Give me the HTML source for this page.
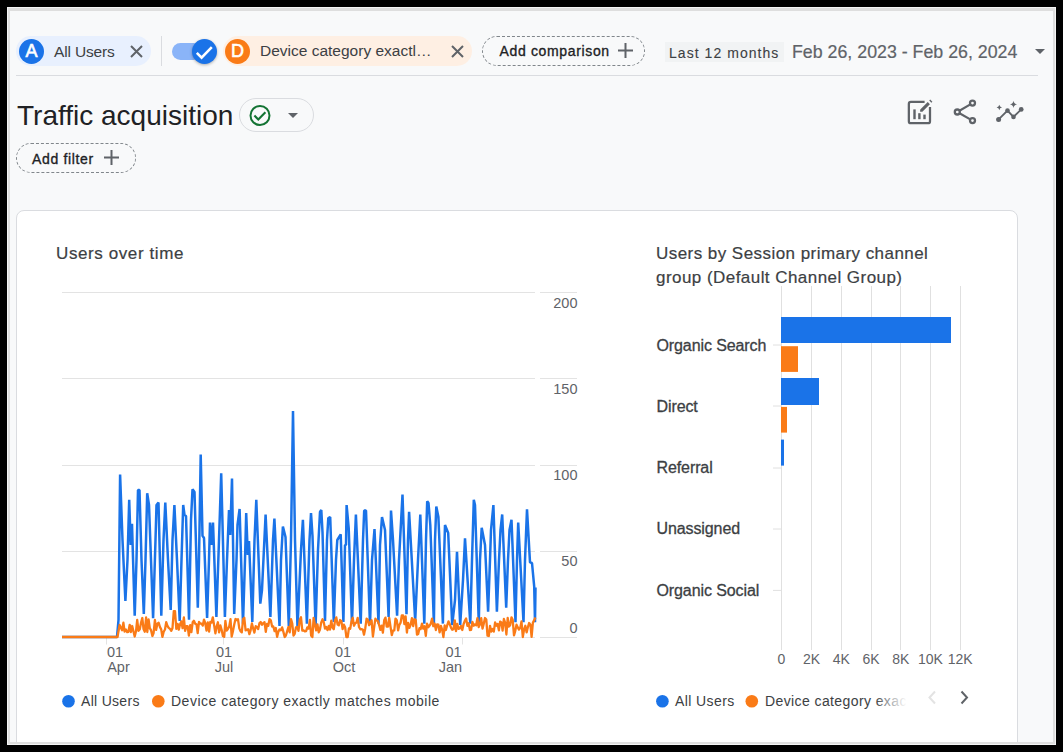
<!DOCTYPE html>
<html><head><meta charset="utf-8">
<style>
*{box-sizing:border-box;margin:0;padding:0}
html,body{width:1063px;height:752px;overflow:hidden;background:#000;font-family:"Liberation Sans",sans-serif}
.a{position:absolute}
#f1{left:7px;top:7px;width:1049px;height:738px;background:#f4f4f4}
#f2{left:8px;top:8px;width:1047px;height:736px;background:#dedede}
#pg{left:0;top:0;width:1063px;height:752px;clip-path:inset(11px 10px 10px 10px);background:#f8f9fa}
.t{white-space:nowrap;line-height:1}
.med{-webkit-text-stroke:0.33px currentColor}
.chip{border-radius:15px;height:30px;top:36px}
.av{width:25px;height:25px;border-radius:50%;top:38.8px;color:#fff;font-size:18px;text-align:center;line-height:24px;-webkit-text-stroke:0.6px #fff}
.btn{border:1px dashed #80868b;border-radius:15px;height:30px}
#card{left:16px;top:210px;width:1002px;height:560px;background:#fff;border:1px solid #dadce0;border-radius:8px}
</style></head><body>
<div class="a" id="f1"></div>
<div class="a" id="f2"></div>
<div class="a" id="pg">
  <!-- top bar -->
  <div class="a chip" style="left:16px;width:135px;background:#e8f0fe"></div>
  <div class="a av" style="left:19px;background:#1a73e8">A</div>
  <div class="a t" style="left:54px;top:43.8px;font-size:15.5px;letter-spacing:-0.15px;color:#3c4043">All Users</div>
  <svg class="a" style="left:130px;top:45px" width="13" height="13" viewBox="0 0 13 13"><path d="M1 1L12 12M12 1L1 12" stroke="#5f6368" stroke-width="2"/></svg>
  <div class="a" style="left:161px;top:36px;width:1px;height:30px;background:#dadce0"></div>
  <div class="a" style="left:172px;top:43px;width:30px;height:17px;border-radius:9px;background:#8ab4f8"></div>
  <div class="a" style="left:192px;top:38.5px;width:25px;height:25px;border-radius:50%;background:#1a73e8;box-shadow:0 1px 3px rgba(0,0,0,.3)"></div>
  <svg class="a" style="left:192px;top:38.5px" width="25" height="25" viewBox="0 0 25 25"><path d="M4.8 13.8L9.6 18.6L19.8 8.2" stroke="#fff" stroke-width="2.6" fill="none"/></svg>
  <div class="a chip" style="left:223px;width:249px;background:#feefe3"></div>
  <div class="a av" style="left:225px;background:#fa7b17">D</div>
  <div class="a t" style="left:260px;top:43px;font-size:15.5px;color:#3c4043">Device category exactl…</div>
  <svg class="a" style="left:451px;top:45px" width="13" height="13" viewBox="0 0 13 13"><path d="M1 1L12 12M12 1L1 12" stroke="#5f6368" stroke-width="2"/></svg>
  <div class="a btn" style="left:482px;top:36px;width:163px"></div>
  <div class="a t med" style="left:499.5px;top:44.3px;font-size:14px;letter-spacing:0.65px;color:#202124">Add comparison</div>
  <svg class="a" style="left:618px;top:43px" width="15" height="15" viewBox="0 0 15 15"><path d="M0 7.5H15M7.5 0V15" stroke="#5f6368" stroke-width="2"/></svg>
  <div class="a" style="left:665px;top:42px;width:119px;height:20px;background:#f1f3f4"></div>
  <div class="a t" style="left:669px;top:45.5px;font-size:14px;color:#3c4043;letter-spacing:1.05px;-webkit-text-stroke:0.1px #3c4043">Last 12 months</div>
  <div class="a t" style="left:792px;top:44px;font-size:17.8px;color:#5f6368;-webkit-text-stroke:0.2px #5f6368">Feb 26, 2023 - Feb 26, 2024</div>
  <svg class="a" style="left:1035px;top:49px" width="10" height="5" viewBox="0 0 10 5"><path d="M0 0H10L5 5Z" fill="#5f6368"/></svg>
  <div class="a" style="left:16px;top:75px;width:1022px;height:1px;background:#dadce0"></div>

  <!-- title row -->
  <div class="a t" style="left:17px;top:101.7px;font-size:28px;color:#202124">Traffic acquisition</div>
  <div class="a" style="left:239px;top:98px;width:75px;height:34px;border:1px solid #dadce0;border-radius:17px"></div>
  <svg class="a" style="left:249px;top:105px" width="22" height="22" viewBox="0 0 22 22"><circle cx="11" cy="10.5" r="9.5" stroke="#137333" stroke-width="2" fill="none"/><path d="M5.4 10.6L9.3 14.5L16.4 7.2" stroke="#137333" stroke-width="2.1" fill="none"/></svg>
  <svg class="a" style="left:288px;top:113px" width="10" height="5" viewBox="0 0 10 5"><path d="M0 0H10L5 5Z" fill="#5f6368"/></svg>
  <div class="a btn" style="left:16px;top:143px;width:120px"></div>
  <div class="a t med" style="left:32px;top:151.5px;font-size:14px;letter-spacing:0.65px;color:#202124">Add filter</div>
  <svg class="a" style="left:104px;top:150px" width="15" height="15" viewBox="0 0 15 15"><path d="M0 7.5H15M7.5 0V15" stroke="#5f6368" stroke-width="2"/></svg>


  <!-- header icons -->
  <svg class="a" style="left:900px;top:95px" width="40" height="35" viewBox="900 95 40 35">
    <path d="M924.6 101.85H910.9Q908.85 101.85 908.85 103.9V121.15Q908.85 123.2 910.9 123.2H927.95Q930 123.2 930 121.15V107" stroke="#5f6368" stroke-width="2.25" fill="none"/>
    <rect x="913.3" y="109.4" width="2.4" height="9.8" fill="#5f6368"/>
    <rect x="918.2" y="113.2" width="2.4" height="6" fill="#5f6368"/>
    <rect x="923.3" y="114.6" width="2.4" height="4.6" fill="#5f6368"/>
    <path d="M920.1 111.8L920.24 109.54L927.74 102.04L929.86 104.16L922.36 111.66Z" fill="#5f6368"/>
    <path d="M929.24 100.54L930.24 99.54L932.36 101.66L931.36 102.66Z" fill="#5f6368"/>
  </svg>
  <svg class="a" style="left:945px;top:95px" width="40" height="35" viewBox="945 95 40 35">
    <path d="M957.3 112L972.5 103.1M957.3 112L972.5 120.6" stroke="#5f6368" stroke-width="2.2"/>
    <circle cx="957.3" cy="112" r="2.5" stroke="#5f6368" stroke-width="2.3" fill="#f8f9fa"/>
    <circle cx="972.5" cy="103.1" r="2.5" stroke="#5f6368" stroke-width="2.3" fill="#f8f9fa"/>
    <circle cx="972.5" cy="120.6" r="2.5" stroke="#5f6368" stroke-width="2.3" fill="#f8f9fa"/>
  </svg>
  <svg class="a" style="left:990px;top:95px" width="40" height="35" viewBox="990 95 40 35">
    <path d="M998.6 119.4L1007.5 110.6L1013.5 116.9L1021.2 109.4" stroke="#5f6368" stroke-width="1.9" fill="none"/>
    <circle cx="998.6" cy="119.4" r="2.5" fill="#5f6368"/>
    <circle cx="1007.5" cy="110.6" r="2.3" fill="#5f6368"/>
    <circle cx="1013.5" cy="116.9" r="2.3" fill="#5f6368"/>
    <circle cx="1021.2" cy="109.4" r="2.4" fill="#5f6368"/>
    <path d="M1013.5 100.7Q1014 103.8 1017.1 104.3Q1014 104.8 1013.5 107.9Q1013 104.8 1009.9 104.3Q1013 103.8 1013.5 100.7Z" fill="#5f6368"/>
    <path d="M999.3 104.8Q999.65 107.15 1002 107.5Q999.65 107.85 999.3 110.2Q998.95 107.85 996.6 107.5Q998.95 107.15 999.3 104.8Z" fill="#5f6368"/>
  </svg>

  <!-- card -->
  <div class="a" id="card"></div>
  <div class="a t" style="left:56px;top:245px;font-size:17px;letter-spacing:0.6px;color:#3c4043;-webkit-text-stroke:0.2px #3c4043">Users over time</div>
  <div class="a t" style="left:656px;top:241.5px;font-size:17px;letter-spacing:0.45px;color:#3c4043;-webkit-text-stroke:0.2px #3c4043;line-height:24.6px;white-space:normal;width:300px">Users by Session primary channel<br>group (Default Channel Group)</div>

  <!-- line chart -->
  <svg class="a" style="left:0;top:0" width="1063" height="752" viewBox="0 0 1063 752">
    <g stroke="#e3e3e3" stroke-width="1">
      <path d="M62 292.5H535M540 292.5H577M62 378.5H535M540 378.5H577M62 465.5H535M540 465.5H577M62 551.5H535M540 551.5H577M62 637.5H535M540 637.5H577"/>
      <path d="M106.5 637V644.5M223.5 637V644.5M343.5 637V644.5M462.5 637V644.5"/>
    </g>
    <polyline points="" fill="none" stroke="#fa7b17" stroke-width="2.3" stroke-linejoin="round"/>
    <polyline points="62,637 117,637 118.5,620 120.1,474.6 122.5,540 125.4,601 127.5,560 129.2,499.9 130.7,545 132,523.8 134.7,615.6 136.5,560 138.0,490 139.5,490 141.5,560 143.8,614 145.5,560 147.2,493.2 149,505 153.1,618.2 155.5,540 156.5,505 158.5,502.5 161.3,615.6 163.5,540 165.3,502.5 168,560 170.7,610 172.5,540 174.4,505 177,560 179.7,621 181.5,560 183.2,505 184.5,515 186,516 189,619.6 191,520 192.5,489.2 194.5,492 197.8,607.6 199,560 200.7,454.6 202.5,535.8 204,538 207.1,618 209,560 210,522.5 211.3,545 213,522.5 216.4,617 219,540 221.2,473.3 224.9,617 227,560 229,510 230.2,535 232,478.6 234.2,614 236.5,560 237.5,525 239.6,509 243,623.6 245,560 246.2,513 247.8,555 249,541 252.3,622 254.5,540 256.3,499.9 260.3,603.6 262,590 265.6,514.5 270.4,617 273,540 274.4,518.5 279.5,626 281,560 282.9,526.5 285.5,537 288.8,626 291,540 293,411 295,540 297.5,627.5 301,550 302.9,519.8 306.9,623.6 309.5,540 311,513 312.5,536 315.6,626 318,550 320,512 321.3,510 322.5,532 325,621 327,540 328.3,518 330.2,517 333.8,622 336,560 337.3,540 340.7,534.4 343.4,622 345,545 346,545 346.6,505 348.7,528 352,623.6 354,560 355.9,514.5 360.7,623.6 363,540 364.2,510.5 366,510.5 370,625 372,560 374.5,529 378.5,623.6 380,545 382,517 385,530 388.6,617 390,560 391,510.5 393,540 397.1,615.6 399,560 402.5,494.5 406.5,614.2 408,540 409.1,511.8 415.2,621 418,560 420.3,514.5 424.3,623.6 426,540 427.2,501.2 428.5,503 430.3,525 433.9,623.6 435,540 436.3,506.5 438.4,517 442.9,623.6 444,560 445,525 448.2,533 452.2,625 455,600 457,551.7 460.2,625 463,580 465,538.4 470.3,623.6 472,560 473.8,499.9 475,505 478.8,623.6 480,560 481.7,527.8 485,545 488.1,611.6 490,560 491,530 493.4,505 496.9,611.6 499,560 500.5,530 502.2,514.5 506.2,607.6 508,560 509.5,530 511.5,519.8 515.5,622.2 517,560 518.2,522.5 523.5,622.2 525,560 527,509.2 530,562.4 532,563 534.2,586.3 535,622.2 535.5,587.6" fill="none" stroke="#1a73e8" stroke-width="2.5" stroke-linejoin="bevel"/>
    <polyline points="62,637 117.5,637 119.6,625 120.9,627.7 122.1,630.3 123.4,622.6 124.6,631.6 125.9,629.5 127.2,632.2 128.4,631.8 129.7,624.8 130.9,632.1 132.2,626.0 133.5,631.6 134.7,636.5 136.0,631.3 137.2,619.9 138.5,630.8 139.8,629.2 141.0,622.9 142.3,618.0 143.5,628.9 144.8,631.7 146.1,617.5 147.3,632.0 148.6,619.4 149.8,628.2 151.1,630.4 152.4,636.0 153.6,633.1 154.9,620.0 156.1,629.9 157.4,623.7 158.7,622.8 159.9,626.9 161.2,629.4 162.4,636.9 163.7,631.8 165.0,629.5 166.2,622.1 167.5,626.0 168.7,627.8 170.0,628.8 171.3,630.8 172.5,628.0 173.8,611.1 175.0,611.1 176.3,628.9 177.6,623.8 178.8,629.7 180.1,624.3 181.3,621.4 182.6,628.2 183.9,617.5 185.1,630.9 186.4,626.2 187.6,626.1 188.9,635.5 190.2,625.1 191.4,632.1 192.7,622.3 193.9,620.8 195.2,623.8 196.5,624.3 197.7,633.0 199.0,621.9 200.2,623.5 201.5,623.7 202.8,625.6 204.0,619.6 205.3,623.2 206.5,630.5 207.8,622.4 209.1,631.7 210.3,621.8 211.6,622.6 212.8,617.3 214.1,625.1 215.4,633.4 216.6,626.7 217.9,622.3 219.1,632.3 220.4,625.5 221.7,630.1 222.9,636.0 224.2,636.9 225.4,620.8 226.7,630.7 228.0,628.8 229.2,626.6 230.5,619.2 231.7,636.6 233.0,630.9 234.3,624.2 235.5,619.0 236.8,620.0 238.0,619.3 239.3,628.4 240.6,631.4 241.8,632.3 243.1,619.0 244.3,617.8 245.6,630.3 246.9,630.0 248.1,629.1 249.4,634.2 250.6,630.3 251.9,623.5 253.2,628.6 254.4,632.6 255.7,626.2 256.9,627.0 258.2,629.1 259.5,623.1 260.7,622.0 262.0,624.7 263.2,623.1 264.5,622.2 265.8,631.8 267.0,623.9 268.3,625.8 269.5,619.1 270.8,620.3 272.1,626.6 273.3,626.5 274.6,631.1 275.8,628.0 277.1,636.9 278.4,631.6 279.6,629.4 280.9,630.2 282.1,627.4 283.4,631.9 284.7,637.0 285.9,635.5 287.2,631.1 288.4,627.0 289.7,632.3 291.0,619.1 292.2,623.2 293.5,635.6 294.7,633.9 296.0,627.3 297.3,627.0 298.5,630.8 299.8,619.5 301.0,617.3 302.3,630.6 303.6,630.4 304.8,631.4 306.1,631.1 307.3,627.4 308.6,628.6 309.9,619.8 311.1,635.4 312.4,637.0 313.6,617.9 314.9,624.5 316.2,630.4 317.4,624.3 318.7,632.3 319.9,629.7 321.2,622.7 322.5,619.3 323.7,621.9 325.0,628.6 326.2,627.0 327.5,630.1 328.8,625.9 330.0,629.6 331.3,620.6 332.5,627.6 333.8,629.2 335.1,620.1 336.3,617.4 337.6,624.6 338.8,625.3 340.1,620.0 341.4,621.2 342.6,629.2 343.9,624.7 345.1,627.2 346.4,637.0 347.7,637.0 348.9,628.3 350.2,628.7 351.4,621.9 352.7,617.8 354.0,625.7 355.2,623.3 356.5,622.5 357.7,617.9 359.0,627.0 360.3,629.3 361.5,629.2 362.8,629.6 364.0,634.7 365.3,628.2 366.6,618.7 367.8,619.6 369.1,625.2 370.3,622.6 371.6,620.3 372.9,636.5 374.1,627.6 375.4,618.6 376.6,620.5 377.9,621.0 379.2,625.3 380.4,629.9 381.7,625.6 382.9,632.7 384.2,620.3 385.5,617.6 386.7,626.5 388.0,626.5 389.2,618.0 390.5,626.6 391.8,635.2 393.0,630.7 394.3,630.3 395.5,618.6 396.8,620.2 398.1,630.4 399.3,625.0 400.6,622.6 401.8,615.4 403.1,615.4 404.4,624.2 405.6,616.3 406.9,632.5 408.1,622.8 409.4,627.8 410.7,624.5 411.9,618.2 413.2,626.0 414.4,619.2 415.7,619.9 417.0,634.6 418.2,634.0 419.5,628.1 420.7,629.0 422.0,623.6 423.3,628.7 424.5,626.2 425.8,635.8 427.0,623.7 428.3,627.2 429.6,625.6 430.8,623.6 432.1,618.6 433.3,626.2 434.6,623.6 435.9,630.1 437.1,624.4 438.4,624.6 439.6,632.4 440.9,625.9 442.2,629.8 443.4,637.0 444.7,625.5 445.9,630.0 447.2,625.3 448.5,621.4 449.7,624.0 451.0,627.6 452.2,629.8 453.5,629.2 454.8,620.5 456.0,631.0 457.3,624.0 458.5,628.8 459.8,628.4 461.1,625.9 462.3,630.0 463.6,624.0 464.8,620.9 466.1,618.5 467.4,625.8 468.6,623.2 469.9,630.0 471.1,629.9 472.4,621.9 473.7,625.7 474.9,624.4 476.2,625.3 477.4,618.1 478.7,627.0 480.0,624.3 481.2,618.1 482.5,628.7 483.7,624.0 485.0,618.0 486.3,619.6 487.5,635.7 488.8,636.0 490.0,625.8 491.3,631.6 492.6,629.0 493.8,631.6 495.1,622.3 496.3,625.7 497.6,623.9 498.9,630.3 500.1,621.6 501.4,622.4 502.6,630.5 503.9,619.0 505.2,622.8 506.4,634.5 507.7,617.9 508.9,626.5 510.2,625.1 511.5,617.3 512.7,619.8 514.0,635.4 515.2,631.2 516.5,624.7 517.8,627.4 519.0,629.6 520.3,627.7 521.5,621.5 522.8,637.0 524.1,629.3 525.3,625.8 526.6,632.4 527.8,627.5 529.1,623.0 530.4,624.7 531.6,636.9 532.9,622.6 534.1,620.4 535.4,617.6" fill="none" stroke="#fa7b17" stroke-width="2.3" stroke-linejoin="round"/>
  </svg>

  <svg class="a" style="left:0;top:0" width="1063" height="752" viewBox="0 0 1063 752" font-family="Liberation Sans, sans-serif">
    <g font-size="14.5" fill="#5f6368" text-anchor="end">
      <text x="577.5" y="308.2">200</text><text x="577.5" y="394.2">150</text><text x="577.5" y="480">100</text><text x="577.5" y="565.7">50</text><text x="577.5" y="633.2">0</text>
    </g>
    <g font-size="14.5" fill="#5f6368" text-anchor="middle">
      <text x="115" y="657">01</text><text x="118.5" y="672">Apr</text>
      <text x="224" y="657">01</text><text x="224" y="672">Jul</text>
      <text x="343" y="657">01</text><text x="344" y="672">Oct</text>
      <text x="453.5" y="657">01</text><text x="450.5" y="672">Jan</text>
    </g>
    <circle cx="68.5" cy="701.2" r="6.3" fill="#1a73e8"/>
    <circle cx="158.3" cy="701.2" r="6.3" fill="#fa7b17"/>
    <g font-size="14" fill="#3c4043" letter-spacing="0.5">
      <text x="81" y="705.5" letter-spacing="0.3">All Users</text>
      <text x="171" y="705.5">Device category exactly matches mobile</text>
    </g>
    <!-- bar chart -->
    <g stroke="#e0e0e0" stroke-width="1">
      <path d="M781.5 286V650M811.5 286V650M841.5 286V650M871.5 286V650M900.5 286V650M930.5 286V650M960.5 286V650"/>
      <path d="M773 345H781M773 406H781M773 468H781M773 529H781M773 590.4H781"/>
    </g>
    <g fill="#1a73e8">
      <rect x="781" y="317" width="170" height="26"/>
      <rect x="781" y="378" width="38" height="27"/>
      <rect x="781" y="439.6" width="3" height="26"/>
    </g>
    <g fill="#fa7b17">
      <rect x="781" y="346.2" width="17" height="25.7"/>
      <rect x="781" y="406.9" width="6" height="25.7"/>
    </g>
    <g font-size="16" fill="#3c4043" stroke="#3c4043" stroke-width="0.3" letter-spacing="-0.1">
      <text x="656.5" y="351.2">Organic Search</text>
      <text x="656.5" y="411.8">Direct</text>
      <text x="656.5" y="472.8">Referral</text>
      <text x="656.5" y="534">Unassigned</text>
      <text x="656.5" y="595.7">Organic Social</text>
    </g>
    <g font-size="14" fill="#5f6368" text-anchor="middle">
      <text x="781.5" y="663.6">0</text><text x="811.5" y="663.6">2K</text><text x="841.3" y="663.6">4K</text><text x="871.1" y="663.6">6K</text><text x="900.8" y="663.6">8K</text><text x="930.4" y="663.6">10K</text><text x="960.1" y="663.6">12K</text>
    </g>
    <defs><linearGradient id="fade" x1="0" x2="1"><stop offset="0" stop-color="#3c4043"/><stop offset="0.78" stop-color="#3c4043"/><stop offset="0.84" stop-color="#80868b"/><stop offset="1" stop-color="#fff"/></linearGradient></defs>
    <circle cx="662.4" cy="701.2" r="6.3" fill="#1a73e8"/>
    <circle cx="751.8" cy="701.2" r="6.3" fill="#fa7b17"/>
    <g font-size="14" letter-spacing="0.4">
      <text x="675" y="705.5" fill="#3c4043">All Users</text>
      <text x="765" y="705.5" fill="url(#fade)">Device category exac</text>
    </g>
    <path d="M935 691.5L929.5 697.5L935 703.5" stroke="#e3e3e3" stroke-width="2" fill="none"/>
    <path d="M961.5 691.5L967 697.5L961.5 703.5" stroke="#5f6368" stroke-width="2" fill="none"/>
  </svg>
</div>
</body></html>
